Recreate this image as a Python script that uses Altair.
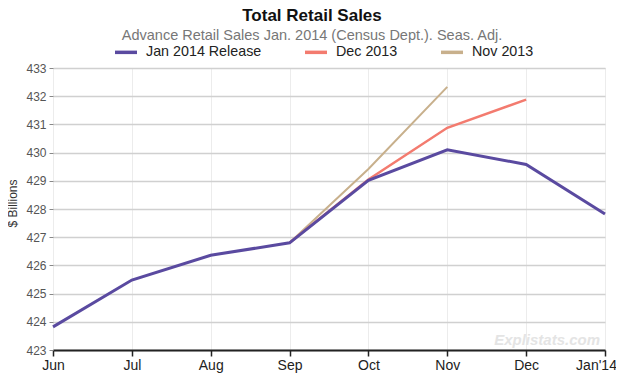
import altair as alt
import pandas as pd

months = ["Jun", "Jul", "Aug", "Sep", "Oct", "Nov", "Dec", "Jan'14"]
series_names = ["Jan 2014 Release", "Dec 2013", "Nov 2013"]
colors = ["#5a4aa0", "#f37b6f", "#c8b08c"]
widths = [3, 2.5, 2]

jan_release = [423.82, 425.48, 426.36, 426.8, 429.02, 430.1, 429.58, 427.82]
dec_2013_months = ["Sep", "Oct", "Nov", "Dec"]
dec_2013 = [426.8, 429.05, 430.88, 431.88]
nov_2013_months = ["Sep", "Oct", "Nov"]
nov_2013 = [426.8, 429.42, 432.33]

rows = []
for m, v in zip(nov_2013_months, nov_2013):
    rows.append({"series": "Nov 2013", "month": m, "value": v})
for m, v in zip(dec_2013_months, dec_2013):
    rows.append({"series": "Dec 2013", "month": m, "value": v})
for m, v in zip(months, jan_release):
    rows.append({"series": "Jan 2014 Release", "month": m, "value": v})
df = pd.DataFrame(rows)

FONT = "Liberation Sans"

x_enc = alt.X("month:N", sort=months, scale=alt.Scale(domain=months, type="point", padding=0),
              axis=alt.Axis(title=None, labelAngle=0, labelFontSize=14, labelColor="#222",
                            labelFont=FONT, domainColor="#222", domainWidth=2, tickColor="#222",
                            tickSize=6, tickWidth=1.5, labelPadding=2,
                            labelOffset={"condition": {"test": "datum.label == \"Jan'14\"", "value": -9},
                                         "value": 0},
                            grid=True, gridColor="#ececec", gridWidth=1))
y_enc = alt.Y("value:Q", scale=alt.Scale(domain=[423, 433], nice=False, zero=False),
              axis=alt.Axis(title="$ Billions", titleFontSize=12, titleFont=FONT,
                            titleColor="#333", titleFontWeight="normal", titlePadding=6,
                            titleY=135,
                            values=list(range(423, 434)), labelFontSize=12, labelColor="#555",
                            labelFont=FONT, domain=False, tickColor="#888", tickSize=4,
                            gridColor="#d0d0d0", gridWidth=1.5, labelPadding=3))

def line_for(name, color, w):
    return alt.Chart(df).transform_filter(alt.datum.series == name).mark_line(
        strokeWidth=w, strokeCap="butt"
    ).encode(
        x=x_enc, y=y_enc,
        color=alt.Color("series:N", scale=alt.Scale(domain=series_names, range=colors),
                        legend=alt.Legend(title=None, orient="none", direction="horizontal",
                                          legendX=60, legendY=-29, symbolType="stroke",
                                          symbolSize=484, symbolStrokeWidth=3.5,
                                          labelFontSize=14.3, labelFont=FONT, labelColor="#222",
                                          columnPadding=36, labelOffset=7)),
    )

layers = [line_for(n, c, w) for n, c, w in zip(series_names, colors, widths)][::-1]

watermark = alt.Chart(pd.DataFrame({"t": ["Explistats.com"]})).mark_text(
    font=FONT, fontSize=15, fontStyle="italic", fontWeight="bold", color="#e4e4e4",
    align="right", baseline="middle"
).encode(text="t:N", x=alt.value(547), y=alt.value(272))

chart = alt.layer(*layers, watermark).properties(
    width=552, height=282,
    padding={"left": 45, "top": 60, "right": 11, "bottom": 26},
    autosize=alt.AutoSizeParams(type="none"),
    title=alt.TitleParams(text="Total Retail Sales", subtitle="Advance Retail Sales Jan. 2014 (Census Dept.). Seas. Adj.",
                          fontSize=17, font=FONT, fontWeight="bold", color="#111",
                          subtitleFontSize=14.5, subtitleFont=FONT, subtitleColor="#777",
                          anchor="middle", dx=-17, offset=-4, subtitlePadding=4),
).configure_view(stroke=None).configure(background="white")

chart.save("out.html", embed_options={"renderer": "svg", "actions": False})
